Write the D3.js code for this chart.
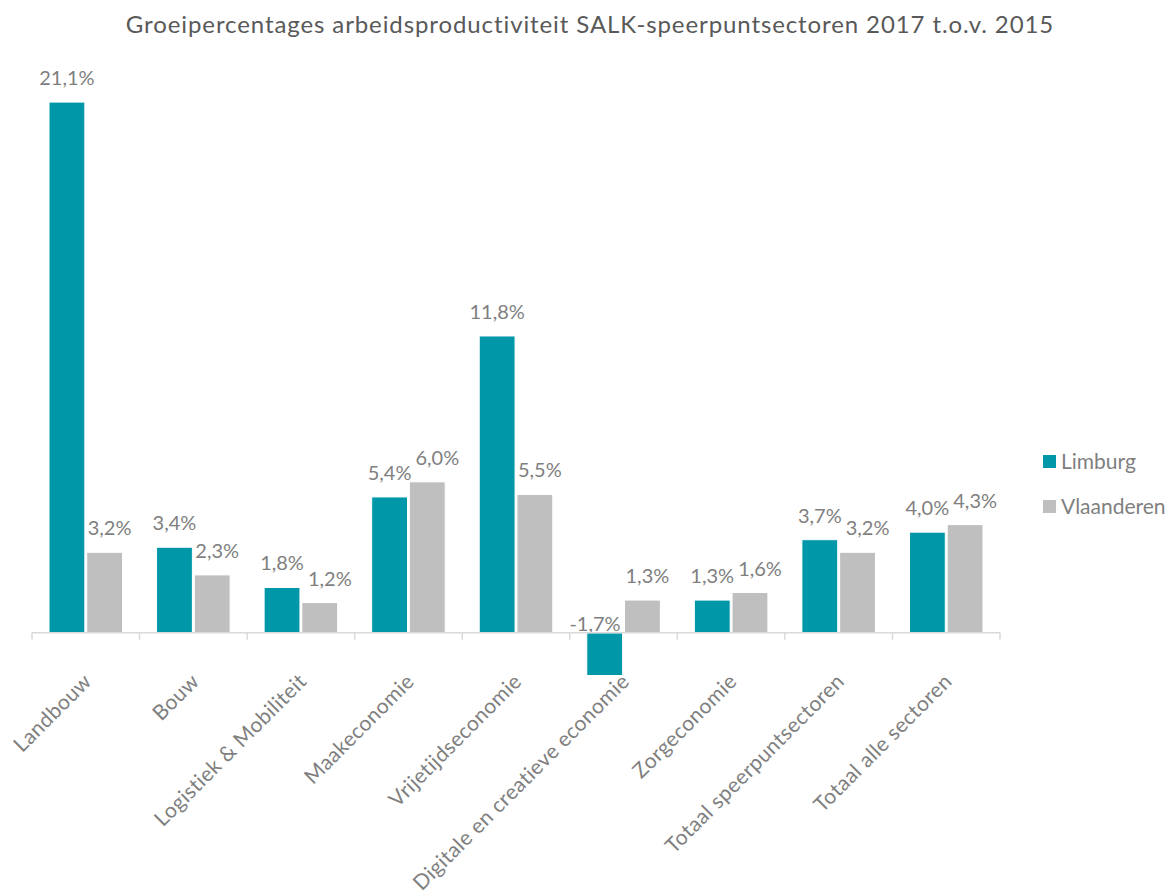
<!DOCTYPE html>
<html>
  <head>
    <meta charset="utf-8">
    <title>Groeipercentages arbeidsproductiviteit</title>
    <script src="https://d3js.org/d3.v7.min.js"></script>
    <style>
      body { margin: 0; background: #fff; }
      text { font-family: Lato, "Open Sans", sans-serif; }
    </style>
  </head>
  <body>
    <div id="chart"></div>
    <script>

      // data
      const categories = ['Landbouw', 'Bouw', 'Logistiek & Mobiliteit', 'Maakeconomie',
        'Vrijetijdseconomie', 'Digitale en creatieve economie', 'Zorgeconomie',
        'Totaal speerpuntsectoren', 'Totaal alle sectoren'];
      const seriesNames = ['Limburg', 'Vlaanderen'];
      const limburg = [21.1, 3.4, 1.8, 5.4, 11.8, -1.7, 1.3, 3.7, 4.0];
      const vlaanderen = [3.2, 2.3, 1.2, 6.0, 5.5, 1.3, 1.6, 3.2, 4.3];
      const colors = ['#0098a9', '#bfbfbf'];
      const title = 'Groeipercentages arbeidsproductiviteit SALK-speerpuntsectoren 2017 t.o.v. 2015';

      const width = 1170, height = 896;
      const svg = d3.select('#chart').append('svg')
        .attr('width', width)
        .attr('height', height);

      const nl = d3.formatLocale({ decimal: ',', thousands: '.', grouping: [3], currency: ['€', ''], minus: '-' });
      const fmt = v => nl.format('.1f')(v) + '%';

      const rows = categories.map((c, i) => ({ cat: c, values: [limburg[i], vlaanderen[i]] }));

      const x = d3.scaleBand().domain(categories).range([32, 1000]);
      const x1 = d3.scaleBand().domain(seriesNames)
        .range([17, x.bandwidth() - 17])
        .paddingInner(0.05);
      const y = d3.scaleLinear().domain([-5, 25]).range([758.5, 4]);

      // title
      svg.append('text')
        .attr('x', 590)
        .attr('y', 33)
        .attr('text-anchor', 'middle')
        .attr('fill', '#595959')
        .style('font-size', '24px')
        .style('letter-spacing', '0.9px')
        .text(title);

      // bars
      const groups = svg.selectAll('.grp').data(rows).enter().append('g')
        .attr('class', 'grp')
        .attr('transform', d => `translate(${x(d.cat)},0)`);

      groups.selectAll('rect')
        .data(d => d.values.map((v, i) => ({ s: seriesNames[i], v: v, i: i })))
        .enter().append('rect')
        .attr('x', d => x1(d.s))
        .attr('width', x1.bandwidth())
        .attr('y', d => y(Math.max(0, d.v)))
        .attr('height', d => Math.abs(y(d.v) - y(0)))
        .attr('fill', d => colors[d.i])
        .attr('stroke', '#fff')
        .attr('stroke-width', 1);

      // data labels
      groups.selectAll('.lbl')
        .data(d => d.values.map((v, i) => ({ s: seriesNames[i], v: v, i: i })))
        .enter().append('text')
        .attr('class', 'lbl')
        .attr('x', d => d.v < 0 ? x1(d.s) + x1.bandwidth() - 2 : x1(d.s) + x1.bandwidth() / 2 + (d.i ? 5 : 0))
        .attr('y', d => d.v < 0 ? y(0) - 2 : y(d.v) - 17)
        .attr('text-anchor', d => d.v < 0 ? 'end' : 'middle')
        .attr('fill', '#7f7f7f')
        .style('font-size', '20px')
        .text(d => fmt(d.v));

      // nudge the second label of a group right when the two collide
      groups.each(function () {
        const t = d3.select(this).selectAll('.lbl').nodes();
        const a = t[0].getBBox(), b = t[1].getBBox();
        const vOverlap = a.y < b.y + b.height && b.y < a.y + a.height;
        const over = a.x + a.width + 4 - b.x;
        if (vOverlap && over > 0) {
          d3.select(t[1]).attr('x', +d3.select(t[1]).attr('x') + over);
        }
      });

      // axis line and boundary ticks
      const axisG = svg.append('g').attr('transform', `translate(0,${y(0)})`);
      axisG.append('line')
        .attr('x1', x.range()[0]).attr('x2', x.range()[1])
        .attr('stroke', '#d9d9d9').attr('stroke-width', 1.5);
      const bounds = categories.map(c => x(c)).concat([x.range()[1]]);
      axisG.selectAll('.tk').data(bounds).enter().append('line')
        .attr('x1', d => d).attr('x2', d => d)
        .attr('y1', 0).attr('y2', 7)
        .attr('stroke', '#d9d9d9').attr('stroke-width', 1.5);

      // category labels
      const xAxis = d3.axisBottom(x).tickSize(0).tickPadding(0);
      const labG = svg.append('g').attr('transform', `translate(0,${y(0)})`).call(xAxis);
      labG.select('.domain').remove();
      labG.selectAll('text')
        .attr('fill', '#7f7f7f')
        .style('font-size', '21px')
        .style('letter-spacing', '0.4px')
        .style('font-family', 'Lato, "Open Sans", sans-serif')
        .attr('text-anchor', 'end')
        .attr('dy', 0)
        .attr('y', 0)
        .attr('transform', 'translate(7,50) rotate(-45)');

      // legend
      const legend = svg.append('g').attr('transform', 'translate(1043,455)');
      const li = legend.selectAll('g').data(seriesNames).enter().append('g')
        .attr('transform', (d, i) => `translate(0,${i * 45})`);
      li.append('rect').attr('width', 13).attr('height', 13)
        .attr('fill', (d, i) => colors[i]);
      li.append('text').attr('x', 18).attr('y', 14)
        .attr('fill', '#7f7f7f')
        .style('font-size', '21px')
        .text(d => d);

    </script>
  </body>
</html>
